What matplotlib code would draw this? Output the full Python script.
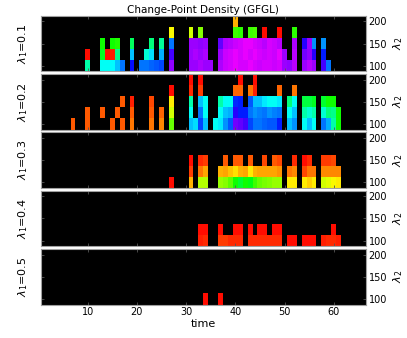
import numpy as np
import matplotlib.pyplot as plt

# density values (x100, hue position on hsv scale); 0 / missing = no change point
time = np.arange(1, 67)
lam2 = [100, 125, 150, 175, 200]
lam1_labels = ['0.1', '0.2', '0.3', '0.4', '0.5']

p1 = {
    200: {40: 12},
    175: {27: 17, 31: 20, 33: 25, 40: 30, 41: 31, 43: 30, 44: 29, 46: 1, 49: 1, 52: 31},
    150: {13: 33, 15: 33, 16: 32, 19: 40, 23: 42, 25: 44, 27: 60, 31: 78, 32: 78, 33: 77,
          34: 78, 37: 74, 38: 79, 39: 80, 40: 81, 41: 82, 42: 83, 43: 83, 44: 82, 45: 81,
          46: 80, 47: 82, 48: 81, 49: 80, 52: 79, 54: 70, 55: 78, 56: 58, 58: 58},
    125: {10: 1, 13: 36, 14: 1, 15: 2, 16: 43, 19: 55, 22: 48, 23: 53, 25: 56, 27: 72,
          31: 78, 32: 79, 33: 78, 34: 79, 37: 78, 38: 81, 39: 82, 40: 83, 41: 82, 42: 83,
          43: 82, 44: 83, 45: 82, 46: 81, 47: 82, 48: 81, 49: 83, 50: 78, 52: 80, 54: 75,
          55: 77, 56: 70, 58: 66},
    100: {10: 45, 13: 50, 14: 50, 15: 51, 16: 55, 17: 60, 19: 67, 21: 60, 22: 60, 23: 61,
          24: 62, 25: 63, 27: 77, 31: 78, 32: 78, 33: 79, 34: 78, 35: 78, 37: 79, 38: 81,
          39: 82, 40: 83, 41: 82, 42: 82, 43: 83, 44: 82, 45: 81, 46: 82, 47: 82, 48: 81,
          49: 82, 50: 78, 51: 77, 52: 80, 54: 78, 55: 80, 56: 78, 58: 72, 59: 60},
}
p2 = {
    200: {31: 1, 33: 1, 41: 1, 44: 1},
    175: {27: 1, 31: 3, 33: 4, 40: 7, 41: 7, 43: 8, 44: 2, 49: 7, 52: 8},
    150: {17: 6, 19: 2, 23: 5, 27: 16, 31: 45, 33: 55, 34: 50, 37: 45, 38: 50, 39: 50,
          40: 65, 41: 66, 43: 62, 44: 55, 45: 55, 46: 52, 47: 50, 48: 50, 49: 52, 51: 42,
          52: 50, 54: 38, 55: 38, 56: 36, 58: 37, 59: 33, 60: 33},
    125: {10: 6, 13: 6, 16: 6, 19: 6, 23: 6, 25: 7, 27: 20, 31: 50, 33: 60, 34: 50, 37: 50,
          38: 55, 39: 56, 40: 70, 41: 66, 42: 66, 43: 60, 44: 58, 45: 59, 46: 60, 47: 58,
          48: 59, 49: 60, 51: 50, 52: 55, 54: 45, 55: 48, 56: 45, 58: 48, 59: 42, 60: 43,
          61: 33},
    100: {7: 6, 10: 6, 15: 6, 17: 6, 19: 8, 23: 8, 25: 9, 27: 27, 31: 55, 32: 53, 33: 63,
          34: 55, 36: 50, 37: 52, 38: 58, 39: 62, 40: 75, 41: 74, 42: 72, 43: 63, 44: 60,
          45: 60, 46: 61, 47: 62, 48: 62, 49: 66, 51: 55, 52: 58, 54: 50, 55: 55, 56: 50,
          58: 60, 59: 56, 60: 45, 61: 33},
}
p3 = {
    150: {31: 1, 33: 3, 34: 4, 38: 6, 40: 6, 41: 6, 43: 6, 46: 5, 48: 6, 49: 5, 52: 3,
          54: 1, 55: 3, 58: 4, 59: 4, 60: 5},
    125: {31: 4, 33: 8, 34: 11, 37: 12, 38: 11, 39: 13, 40: 15, 41: 12, 42: 11, 43: 16,
          44: 12, 45: 11, 46: 11, 47: 11, 48: 11, 49: 10, 51: 8, 52: 9, 54: 5, 55: 8,
          56: 8, 58: 9, 59: 9, 60: 9, 61: 9},
    100: {27: 1, 31: 12, 33: 22, 34: 22, 37: 24, 38: 25, 39: 28, 40: 33, 41: 37, 42: 33,
          43: 35, 44: 30, 45: 27, 46: 26, 47: 25, 48: 24, 49: 24, 51: 16, 52: 16, 54: 16,
          55: 14, 56: 16, 58: 20, 59: 19, 60: 17, 61: 16},
}
p4 = {
    125: {33: 1, 34: 1, 37: 1, 40: 1, 41: 1, 43: 1, 45: 1, 46: 1, 48: 1, 49: 1, 60: 1},
    100: {33: 2, 34: 3, 37: 4, 38: 4, 39: 3, 40: 3, 41: 3, 43: 3, 44: 3, 45: 3, 46: 3,
          47: 3, 48: 3, 49: 3, 51: 1, 52: 1, 54: 1, 55: 1, 56: 1, 58: 2, 59: 3, 60: 3, 61: 2},
}
p5 = {
    100: {34: 1, 37: 1},
}
panels = [p1, p2, p3, p4, p5]


def to_grid(p):
    g = np.zeros((len(lam2), len(time)))
    for i, l in enumerate(lam2):
        for t, v in p.get(l, {}).items():
            g[i, t - 1] = v
    return np.ma.masked_equal(g, 0)


cmap = plt.get_cmap('hsv').copy()
cmap.set_bad('black')

fig = plt.figure(figsize=(4.07, 3.38), dpi=100)
xe = np.arange(0.5, 67, 1)
ye = np.arange(87.5, 213, 25)

left, width = 0.1007, 0.7978
h, step, bottom0 = 0.1642, 0.1725, 0.0991
for k, p in enumerate(panels):
    ax = fig.add_axes([left, bottom0 + (4 - k) * step, width, h])
    ax.set_facecolor('black')
    ax.pcolormesh(xe, ye, to_grid(p), cmap=cmap, vmin=0, vmax=100)
    ax.set_xlim(0.5, 66.5)
    ax.set_ylim(87.5, 212.5)
    ax.set_xticks([10, 20, 30, 40, 50, 60])
    ax.set_yticks([100, 150, 200])
    ax.tick_params(direction='in', length=2.5, width=0.6, color='#555555',
                   labelsize=7, top=True, right=True, left=True,
                   labelleft=False, labelright=True, pad=2)
    ax.yaxis.set_label_position('right')
    ax.set_ylabel(r'$\lambda_2$', fontsize=8, rotation=90, labelpad=3)
    for s in ax.spines.values():
        s.set_color('#a0a0a0')
        s.set_linewidth(0.8)
    ax.text(-0.035, 0.5, r'$\lambda_1$=' + lam1_labels[k], transform=ax.transAxes,
            rotation=90, ha='right', va='center', fontsize=8)
    if k == 0:
        ax.set_title('Change-Point Density (GFGL)', fontsize=7.5, pad=2)
    if k < 4:
        ax.tick_params(labelbottom=False)
    else:
        ax.set_xlabel('time', fontsize=8, labelpad=1)

plt.savefig('out.png', dpi=100, facecolor='white')
